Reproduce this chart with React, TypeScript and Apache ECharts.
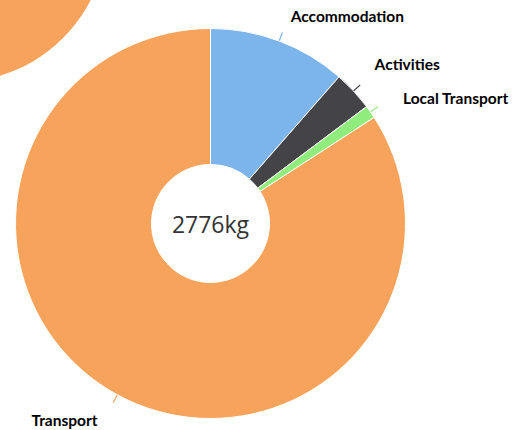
import React, { useEffect, useRef } from 'react';
import * as echarts from 'echarts';

const categories = ['Accommodation', 'Activities', 'Local Transport', 'Transport'];
const values = [318, 92, 30, 2336];
const colors = ['#7cb5ec', '#434348', '#90ed7d', '#f7a35c'];
const totalLabel = '2776kg';
const labelNudges = [[-4, 3.5], [-6, -6.5], [3, 3.5], [-0.5, -1]];

export default function App() {
  const ref = useRef<HTMLDivElement>(null);
  useEffect(() => {
    document.body.style.margin = '0';
    const chart = echarts.init(ref.current!, null, { renderer: 'svg' });
    const center = [210.5, 223.5];
    const radius = [59, 195];
    const data = categories.map((name, i) => ({
      name,
      value: values[i],
      itemStyle: { color: colors[i] },
      labelLine: { lineStyle: { color: colors[i] } },
    }));
    const labelData = categories.map((name, i) => ({ name, value: values[i] }));
    chart.setOption({
      animation: false,
      graphic: [
        { type: 'circle', z: 0, shape: { cx: -43, cy: -68, r: 150 }, style: { fill: '#f7a35c' } },
        {
          type: 'text', z: 100, x: center[0], y: center[1],
          style: { text: totalLabel, align: 'center', verticalAlign: 'middle', fontFamily: 'Open Sans', fontSize: 23, fill: '#333' },
        },
      ],
      series: [
        {
          type: 'pie', center, radius, startAngle: 90, clockwise: true, data,
          avoidLabelOverlap: false,
          itemStyle: { borderColor: '#fff', borderWidth: 1 },
          label: { show: true, formatter: ' ', fontSize: 10 },
          labelLine: { show: true, length: 9, length2: 0, lineStyle: { width: 1.2 } },
          emphasis: { disabled: true },
        },
        {
          type: 'pie', center, radius, startAngle: 90, clockwise: true, data: labelData,
          silent: true, avoidLabelOverlap: false,
          itemStyle: { color: 'transparent', borderWidth: 0 },
          label: { show: true, formatter: '{b}', fontFamily: 'Lato', fontWeight: 'bold', fontSize: 15.5, color: '#000', distanceToLabelLine: 5 },
          labelLine: { show: false, length: 30, length2: 0 },
          labelLayout: (p: any) => ({ dx: labelNudges[p.dataIndex][0], dy: labelNudges[p.dataIndex][1] }),
          emphasis: { disabled: true },
        },
      ],
    });
    return () => chart.dispose();
  }, []);
  return <div ref={ref} style={{ width: 521, height: 430 }} />;
}
